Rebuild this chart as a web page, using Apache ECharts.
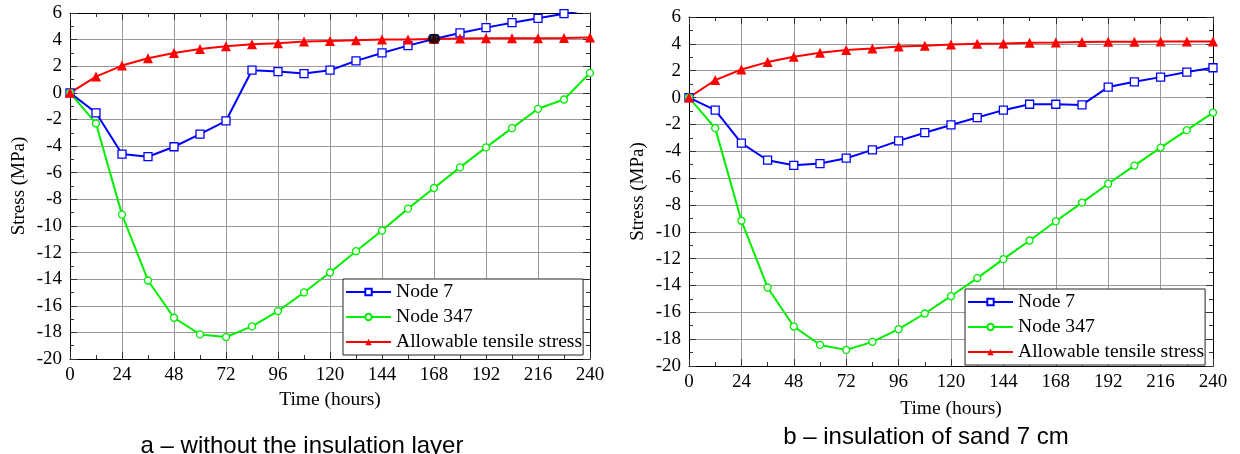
<!DOCTYPE html>
<html>
<head>
<meta charset="utf-8">
<script src="https://cdn.jsdelivr.net/npm/echarts@6/dist/echarts.min.js"></script>
<style>
  html, body { margin: 0; padding: 0; background: #fff; }
  #chart { width: 1240px; height: 454px; }
</style>
</head>
<body>
<div id="chart"></div>
<script>
// time axis, every 12 hours
var hours = [0, 12, 24, 36, 48, 60, 72, 84, 96, 108, 120, 132, 144, 156, 168, 180, 192, 204, 216, 228, 240];

// a - without the insulation layer
var node7A   = [0, -1.5, -4.6, -4.8, -4.05, -3.1, -2.1, 1.7, 1.6, 1.45, 1.7, 2.4, 3.0, 3.55, 4.05, 4.5, 4.9, 5.27, 5.6, 5.95, 6.3];
var node347A = [0, -2.3, -9.15, -14.1, -16.9, -18.15, -18.35, -17.55, -16.4, -15.0, -13.5, -11.9, -10.35, -8.7, -7.15, -5.6, -4.1, -2.65, -1.2, -0.5, 1.5];
var allowA   = [0, 1.22, 2.05, 2.6, 3.0, 3.3, 3.5, 3.65, 3.72, 3.85, 3.9, 3.95, 4.0, 4.0, 4.05, 4.08, 4.1, 4.1, 4.1, 4.12, 4.15];
var crossA   = [[168, 4.07]];

// b - insulation of sand 7 cm
var node7B   = [0, -0.94, -3.4, -4.67, -5.05, -4.92, -4.52, -3.9, -3.23, -2.62, -2.04, -1.49, -0.94, -0.5, -0.5, -0.55, 0.78, 1.17, 1.52, 1.9, 2.22];
var node347B = [0, -2.28, -9.18, -14.15, -17.06, -18.43, -18.8, -18.2, -17.26, -16.09, -14.8, -13.45, -12.04, -10.65, -9.22, -7.83, -6.42, -5.07, -3.73, -2.43, -1.12];
var allowB   = [0, 1.3, 2.09, 2.64, 3.04, 3.34, 3.54, 3.66, 3.8, 3.86, 3.96, 4.0, 4.03, 4.08, 4.1, 4.14, 4.15, 4.16, 4.17, 4.17, 4.18];

var names = ['Node 7', 'Node 347', 'Allowable tensile stress'];

function pairs(ys) {
  return hours.map(function (h, i) { return [h, ys[i]]; });
}

var serif = 'Liberation Serif';
var gridColor = '#999';

function xAxes(gi) {
  var base = {
    type: 'value', gridIndex: gi, min: 0, max: 240, interval: 24,
    axisLine: { show: true, onZero: false, lineStyle: { color: '#000', width: 1 } },
    axisTick: { show: true, inside: true, length: 7, lineStyle: { color: '#333' } },
    minorTick: { show: true, splitNumber: 2, length: 4, lineStyle: { color: '#333' } }
  };
  var bottom = Object.assign({}, base, {
    position: 'bottom',
    name: 'Time (hours)', nameLocation: 'middle', nameGap: gi === 0 ? 31 : 33,
    nameTextStyle: { fontFamily: serif, fontSize: 19.5, color: '#000' },
    axisLabel: { fontFamily: serif, fontSize: 19, color: '#000', margin: 7 },
    splitLine: { show: true, lineStyle: { color: gridColor, width: 1 } }
  });
  var top = Object.assign({}, base, {
    position: 'top',
    axisLabel: { show: false },
    splitLine: { show: false }
  });
  return [bottom, top];
}

function yAxes(gi) {
  var base = {
    type: 'value', gridIndex: gi, min: -20, max: 6, interval: 2,
    axisLine: { show: true, onZero: false, lineStyle: { color: '#000', width: 1 } },
    axisTick: { show: true, inside: true, length: 7, lineStyle: { color: '#333' } },
    minorTick: { show: true, splitNumber: 2, length: 4, lineStyle: { color: '#333' } }
  };
  var left = Object.assign({}, base, {
    position: 'left',
    name: 'Stress (MPa)', nameLocation: 'middle', nameGap: 41, nameRotate: 90,
    nameTextStyle: { fontFamily: serif, fontSize: 19, color: '#000' },
    axisLabel: { fontFamily: serif, fontSize: 19, color: '#000', margin: 8 },
    splitLine: { show: true, lineStyle: { color: gridColor, width: 1 } }
  });
  var right = Object.assign({}, base, {
    position: 'right',
    axisLabel: { show: false },
    splitLine: { show: false }
  });
  return [left, right];
}

function lineSeries(name, ys, gi, color, symbol, size, filled) {
  return {
    name: name, type: 'line', data: pairs(ys),
    xAxisIndex: gi * 2, yAxisIndex: gi * 2,
    symbol: symbol, symbolSize: size, showAllSymbol: true,
    lineStyle: { color: color, width: 2 },
    itemStyle: filled ? { color: color } : { color: '#fff', borderColor: color, borderWidth: 1.3 },
    emphasis: { disabled: true },
    animation: false
  };
}

function legendAt(left, top) {
  return {
    data: names, orient: 'vertical', left: left, top: top,
    itemWidth: 45, itemHeight: 8, itemGap: 5,
    padding: [3, 1, 3, 2],
    backgroundColor: '#fff', borderColor: '#222', borderWidth: 1,
    textStyle: { fontFamily: serif, fontSize: 19.6, color: '#000', lineHeight: 20 },
    selectedMode: false
  };
}

var option = {
  backgroundColor: '#fff',
  animation: false,
  grid: [
    { left: 70, top: 13, width: 520, height: 346 },
    { left: 689, top: 17, width: 524, height: 349 }
  ],
  xAxis: xAxes(0).concat(xAxes(1)),
  yAxis: yAxes(0).concat(yAxes(1)),
  legend: [legendAt(343, 279), legendAt(965, 289)],
  series: [
    lineSeries('Node 7', node7A, 0, '#0000ff', 'rect', 8, false),
    lineSeries('Node 347', node347A, 0, '#00ee00', 'circle', 7, false),
    lineSeries('Allowable tensile stress', allowA, 0, '#ff0000', 'triangle', 10, true),
    {
      type: 'scatter', data: crossA, xAxisIndex: 0, yAxisIndex: 0,
      symbol: 'circle', symbolSize: [13, 10], z: 5,
      itemStyle: { color: '#000' }, emphasis: { disabled: true }
    },
    lineSeries('Node 7', node7B, 1, '#0000ff', 'rect', 8, false),
    lineSeries('Node 347', node347B, 1, '#00ee00', 'circle', 7, false),
    lineSeries('Allowable tensile stress', allowB, 1, '#ff0000', 'triangle', 10, true)
  ],
  graphic: [
    {
      type: 'text', x: 302, y: 446,
      style: { text: 'a \u2013 without the insulation layer', fontFamily: 'Liberation Sans', fontSize: 24, fill: '#000', align: 'center', verticalAlign: 'middle' }
    },
    {
      type: 'text', x: 926, y: 437,
      style: { text: 'b \u2013 insulation of sand 7 cm', fontFamily: 'Liberation Sans', fontSize: 24, fill: '#000', align: 'center', verticalAlign: 'middle' }
    }
  ]
};

var chart = echarts.init(document.getElementById('chart'), null, { renderer: 'canvas' });
chart.setOption(option);
</script>
</body>
</html>
